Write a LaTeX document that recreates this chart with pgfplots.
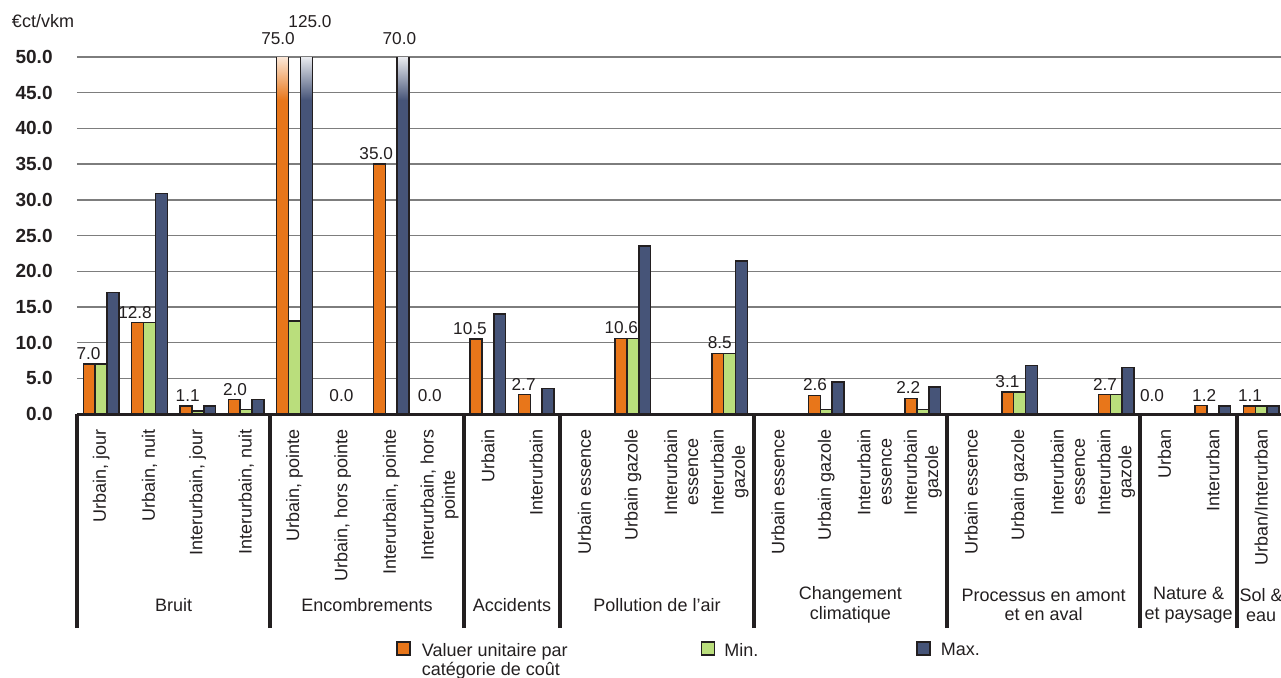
\documentclass[border=0pt]{standalone}
\usepackage{fontspec}
\setmainfont{Liberation Sans}
\usepackage{pgfplots}
\pgfplotsset{compat=1.18}

\definecolor{barorange}{RGB}{232,118,26}
\definecolor{bargreen}{RGB}{186,222,124}
\definecolor{barblue}{RGB}{70,84,120}
\definecolor{barline}{RGB}{35,31,32}
\definecolor{gridgray}{RGB}{125,125,125}

% bars that run past the 50.0 line fade to a pale top
% (stops: 25bp = bar foot, 75bp = bar top, so 44 and 50 sit at 25+50*y/value)
\pgfdeclareverticalshading{orangetopA}{100bp}{color(0bp)=(barorange); color(54.3bp)=(barorange); color(58.3bp)=(barorange!18!white); color(100bp)=(barorange!18!white)}
\pgfdeclareverticalshading{bluetopA}{100bp}{color(0bp)=(barblue); color(42.6bp)=(barblue); color(45bp)=(barblue!12!white); color(100bp)=(barblue!12!white)}
\pgfdeclareverticalshading{bluetopB}{100bp}{color(0bp)=(barblue); color(56.4bp)=(barblue); color(60.7bp)=(barblue!12!white); color(100bp)=(barblue!12!white)}

\pgfplotsset{
  costbar/.style={ybar, bar width=0.245, draw=barline, line width=0.75pt,
    legend image code/.code={\draw[##1, line width=0.75pt] (0pt,-2pt) rectangle (6.5pt,4.5pt);}},
  costframe/.style={at={(0pt,0pt)}, anchor=south west,
    width=602pt, height=178.5pt, scale only axis,
    xmin=-0.5, xmax=24.41, ymin=0, ymax=50, enlargelimits=false},
}

\begin{document}
\begin{tikzpicture}
\path[use as bounding box] (-38.5pt,-131.5pt) rectangle (602pt,207pt);
\begin{axis}[
  costframe,
  axis x line*=bottom, axis y line*=left,
  y axis line style={draw=none},
  x axis line style={draw=barline, line width=1.5pt},
  major tick length=0pt,
  ytick={0,5,...,50},
  ymajorgrids,
  grid style={gridgray, line width=0.7pt},
  /pgf/number format/assume math mode=true,
  yticklabel={\pgfmathprintnumber[fixed, fixed zerofill, precision=1]{\tick}},
  yticklabel style={font=\fontsize{9.5}{11}\selectfont\bfseries, text=barline, anchor=east, inner sep=0pt},
  yticklabel shift=12pt,
  xtick={0,...,24},
  xticklabels={
    {Urbain, jour},{Urbain, nuit},{Interurbain, jour},{Interurbain, nuit},
    {Urbain, pointe},{Urbain, hors pointe},{Interurbain, pointe},{Interurbain, hors\\pointe},
    {Urbain},{Interurbain},
    {Urbain essence},{Urbain gazole},{Interurbain\\essence},{Interurbain\\gazole},
    {Urbain essence},{Urbain gazole},{Interurbain\\essence},{Interurbain\\gazole},
    {Urbain essence},{Urbain gazole},{Interurbain\\essence},{Interurbain\\gazole},
    {Urban},{Interurban},
    {Urban/Interurban}},
  xticklabel style={rotate=90, anchor=east, align=center, inner sep=0pt,
    font=\fontsize{9}{10.6}\selectfont, text=barline},
  xticklabel shift=7.5pt,
  extra x ticks={-0.5,3.5,7.5,9.5,13.5,17.5,21.5,23.5},
  extra x tick labels={},
  extra x tick style={major tick length=107pt, tick align=outside,
    tick style={draw=barline, line width=2pt}, grid=none},
  legend columns=3,
  legend cell align=left,
  legend style={at={(axis description cs:0,0)}, anchor=north west,
    xshift=159.5pt, yshift=-113.5pt, draw=none, fill=none, inner sep=0pt,
    font=\fontsize{9}{9.6}\selectfont, text=barline,
    nodes={inner sep=0pt, text=barline}},
]

% unit value per cost category
\addplot[costbar, bar shift=-0.245, fill=barorange] coordinates {
  (0,7.0) (1,12.8) (2,1.1) (3,2.0) (5,0.0) (6,35.0) (7,0.0)
  (8,10.5) (9,2.7) (11,10.6) (13,8.5) (15,2.6) (17,2.2)
  (19,3.1) (21,2.7) (22,0.0) (23,1.2) (24,1.1)};
\addlegendentry{\hspace{5.5pt}\parbox[t]{139.5pt}{Valuer unitaire par\\catégorie de coût}}

% minimum
\addplot[costbar, bar shift=0, fill=bargreen] coordinates {
  (0,7.0) (1,12.8) (2,0.4) (3,0.6) (4,13.0) (11,10.6) (13,8.5)
  (15,0.6) (17,0.6) (19,3.1) (21,2.7) (24,1.1)};
\addlegendentry{\hspace{4.5pt}\parbox[t]{96pt}{Min.}}

% maximum
\addplot[costbar, bar shift=0.245, fill=barblue] coordinates {
  (0,17.0) (1,30.9) (2,1.1) (3,2.0) (8,14.0) (9,3.6) (11,23.5)
  (13,21.4) (15,4.5) (17,3.8) (19,6.8) (21,6.5) (23,1.1) (24,1.1)};
\addlegendentry{\hspace{5pt}Max.}

% bars beyond the scale
\addplot[costbar, forget plot, bar shift=-0.245, shade, shading=orangetopA, shading angle=0] coordinates {(4,75.0)};
\addplot[costbar, forget plot, bar shift=0.245, shade, shading=bluetopA, shading angle=0] coordinates {(4,125.0)};
\addplot[costbar, forget plot, bar shift=0.245, shade, shading=bluetopB, shading angle=0] coordinates {(6,70.0)};

\coordinate (g1) at (axis cs:1.5,0);
\coordinate (g2) at (axis cs:5.5,0);
\coordinate (g3) at (axis cs:8.5,0);
\coordinate (g4) at (axis cs:11.5,0);
\coordinate (g5) at (axis cs:15.5,0);
\coordinate (g6) at (axis cs:19.5,0);
\coordinate (g7) at (axis cs:22.5,0);
\coordinate (g8) at (axis cs:24.0,0);
\coordinate (unit) at (rel axis cs:0,1);
\end{axis}

% value labels, on an unclipped copy of the same frame
\begin{axis}[costframe, hide axis, clip=false]
\addplot[only marks, mark=*, mark size=0pt,
  nodes near coords, point meta=explicit symbolic,
  every node near coord/.style={anchor=south, inner sep=2pt,
    font=\fontsize{8.6}{10}\selectfont, text=barline}]
  table[meta=label] {
  x      y     label
  -0.26  7.0   7.0
  0.70   12.8  12.8
  1.79   1.1   1.1
  2.77   2.0   2.0
  3.66   51.1  75.0
  4.32   53.5  125.0
  4.97   1.1   0.0
  5.69   35.0  35.0
  6.17   51.1  70.0
  6.80   1.1   0.0
  7.63   10.5  10.5
  8.74   2.7   2.7
  10.76  10.6  10.6
  12.80  8.5   8.5
  14.77  2.6   2.6
  16.70  2.2   2.2
  18.75  3.1   3.1
  20.77  2.7   2.7
  21.74  1.1   0.0
  22.82  1.2   1.2
  23.77  1.1   1.1
};
\end{axis}

\begin{scope}[every node/.style={align=center, inner sep=0pt,
    font=\fontsize{9}{9.8}\selectfont, text=barline}]
  \node at ([yshift=-95.5pt]g1) {Bruit};
  \node at ([yshift=-95.5pt]g2) {Encombrements};
  \node at ([yshift=-95.5pt]g3) {Accidents};
  \node at ([yshift=-95.5pt]g4) {Pollution de l’air};
  \node at ([yshift=-95.5pt]g5) {Changement\\climatique};
  \node at ([yshift=-95.5pt]g6) {Processus en amont\\et en aval};
  \node at ([yshift=-95.5pt]g7) {Nature \&\\et paysage};
  \node at ([yshift=-95.5pt]g8) {Sol \&\\eau};
  \node at ([xshift=-17pt, yshift=17.75pt]unit) {€ct/vkm};
\end{scope}
\end{tikzpicture}
\end{document}
